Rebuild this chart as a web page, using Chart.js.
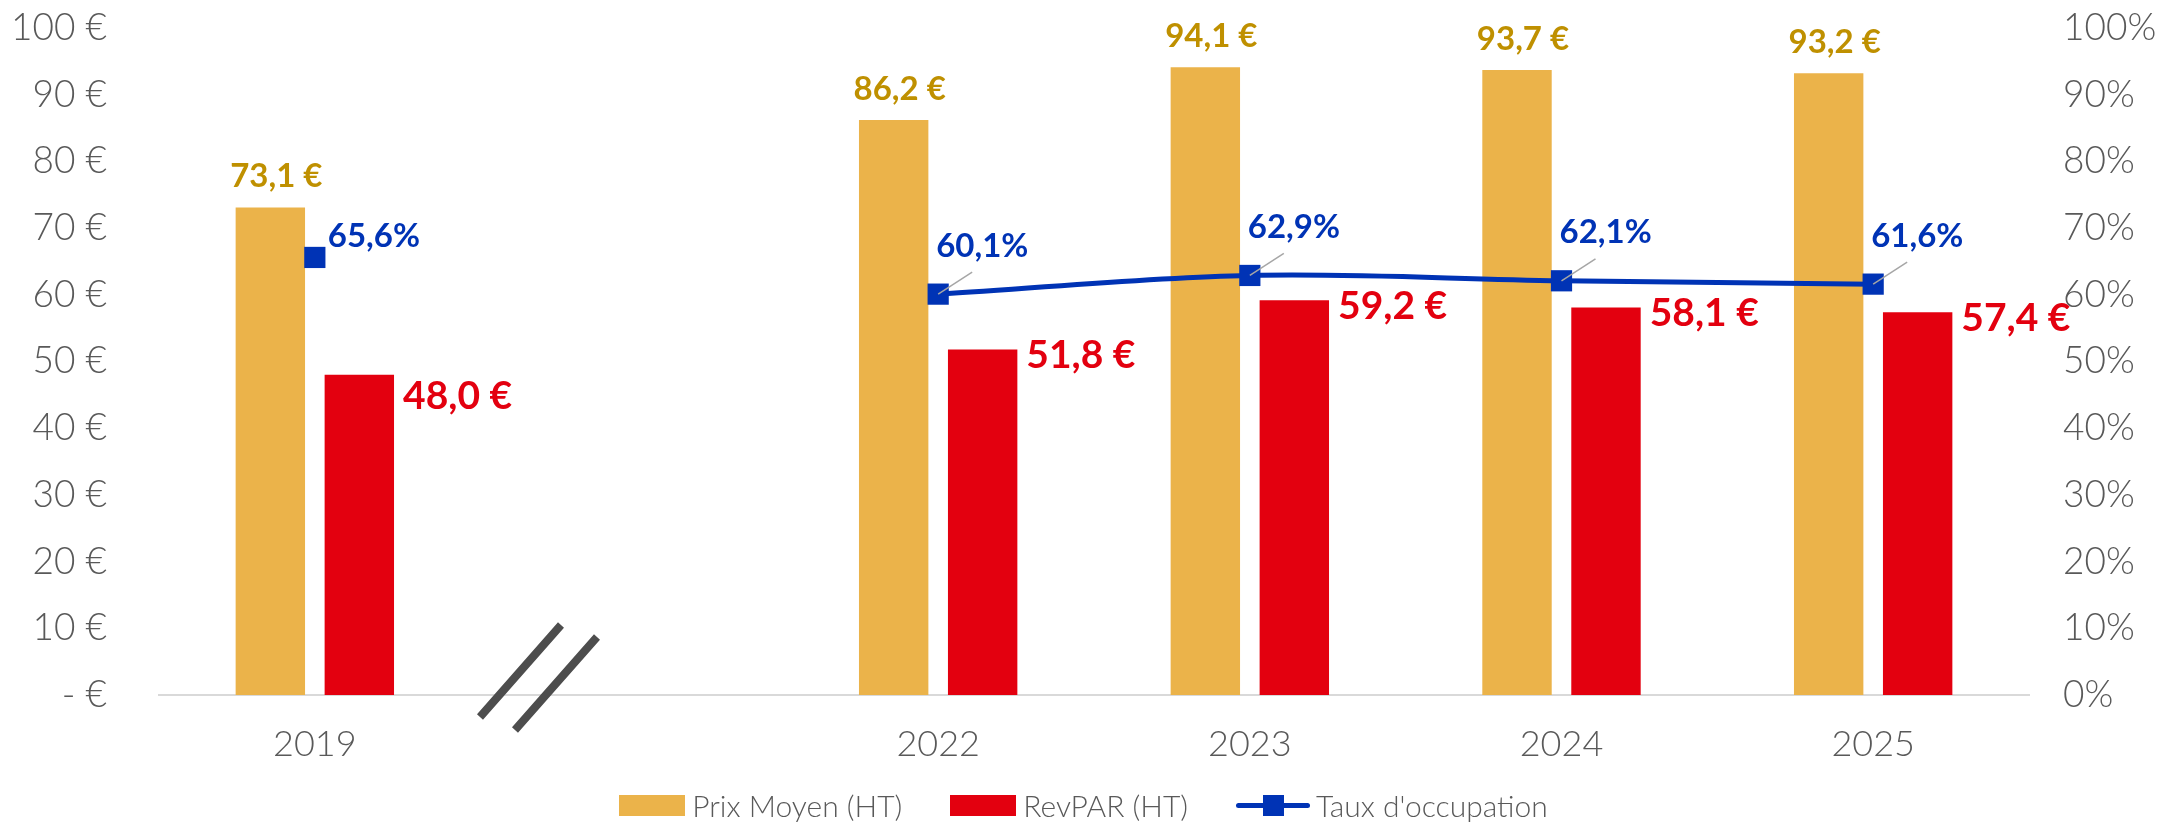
<!DOCTYPE html>
<html lang="fr">
<head>
<meta charset="utf-8">
<title>Prix moyen, RevPAR et taux d'occupation</title>
<script src="https://cdn.jsdelivr.net/npm/chart.js@4/dist/chart.umd.min.js"></script>
<style>
  html, body { margin: 0; padding: 0; background: #fff; }
  #wrap { position: relative; width: 2167px; height: 828px; }
  #legend {
    position: absolute; left: 0; right: 0; top: 787px;
    display: flex; justify-content: center; align-items: center;
    font-family: Lato, "Open Sans", sans-serif; font-weight: 300;
    font-size: 30px; color: #595959; padding-left: 0px;
  }
  .item { display: flex; align-items: center; margin: 0 24px; }
  .box { width: 66px; height: 21px; margin-right: 7px; }
  .lineKey { position: relative; width: 74px; height: 21px; margin-right: 6px; }
  .lineKey .bar { position: absolute; left: 0; right: 0; top: 8px; height: 5px; background: #0033B5; border-radius: 3px; }
  .lineKey .sq { position: absolute; left: 27px; top: 0; width: 21px; height: 21px; background: #0033B5; }
</style>
</head>
<body>
<div id="wrap">
  <canvas id="chart" width="2167" height="828"></canvas>
  <div id="legend">
    <div class="item"><span class="box" style="background:#EBB34A"></span>Prix Moyen (HT)</div>
    <div class="item"><span class="box" style="background:#E3000F"></span>RevPAR (HT)</div>
    <div class="item"><span class="lineKey"><span class="bar"></span><span class="sq"></span></span>Taux d'occupation</div>
  </div>
</div>
<script>
// Données
const annees = ["2019", "", "2022", "2023", "2024", "2025"];
const prixMoyen = [73.1, null, 86.2, 94.1, 93.7, 93.2];
const revpar = [48.0, null, 51.8, 59.2, 58.1, 57.4];
const tauxOccupation = [65.6, null, 60.1, 62.9, 62.1, 61.6];
const ticksEuro = [0, 10, 20, 30, 40, 50, 60, 70, 80, 90, 100];

const FONT = 'Lato, "Open Sans", sans-serif';
const OR = "#EBB34A", ROUGE = "#E3000F", BLEU = "#0033B5";

const euro = v => v.toFixed(1).replace(".", ",") + " €";
const pct = v => v.toFixed(1).replace(".", ",") + "%";

// Étiquettes de valeurs
const etiquettes = {
  id: "etiquettes",
  afterDatasetsDraw(chart) {
    const ctx = chart.ctx;
    ctx.save();
    ctx.textBaseline = "middle";

    // prix moyen au-dessus des barres
    ctx.font = "bold 33px " + FONT;
    ctx.fillStyle = "#BF9000";
    ctx.textAlign = "center";
    chart.getDatasetMeta(1).data.forEach((b, i) => {
      if (prixMoyen[i] == null) return;
      ctx.fillText(euro(prixMoyen[i]), b.x + 6, b.y - 31);
    });

    // revpar à droite des barres
    ctx.font = "bold 39px " + FONT;
    ctx.fillStyle = ROUGE;
    ctx.textAlign = "left";
    chart.getDatasetMeta(2).data.forEach((b, i) => {
      if (revpar[i] == null) return;
      const dy = i === 0 ? 22 : 6;
      ctx.fillText(euro(revpar[i]), b.x + b.width / 2 + 9, b.y + dy);
    });

    // taux d'occupation
    ctx.font = "bold 33px " + FONT;
    ctx.fillStyle = BLEU;
    chart.getDatasetMeta(0).data.forEach((p, i) => {
      if (tauxOccupation[i] == null) return;
      if (i === 0) {
        ctx.fillText(pct(tauxOccupation[i]), p.x + 13, p.y - 21);
        return;
      }
      ctx.strokeStyle = "#A6A6A6";
      ctx.lineWidth = 1.5;
      ctx.beginPath();
      ctx.moveTo(p.x, p.y);
      ctx.lineTo(p.x + 34, p.y - 22);
      ctx.stroke();
      ctx.fillText(pct(tauxOccupation[i]), p.x - 2, p.y - 48);
    });
    ctx.restore();
  }
};

// Coupure de l'axe entre 2019 et 2022
const coupure = {
  id: "coupure",
  afterDraw(chart) {
    const x = chart.scales.x, ctx = chart.ctx;
    const x0 = x.getPixelForValue(0), x1 = x.getPixelForValue(1);
    const cx = x0 + 0.716 * (x1 - x0);
    const cy = chart.chartArea.bottom;
    ctx.save();
    ctx.strokeStyle = "#4D4D4D";
    ctx.lineWidth = 8;
    ctx.beginPath();
    ctx.moveTo(cx - 58, cy + 22); ctx.lineTo(cx + 23, cy - 70);
    ctx.moveTo(cx - 23, cy + 35); ctx.lineTo(cx + 59, cy - 58);
    ctx.stroke();
    ctx.restore();
  }
};

// largeur fixe des axes verticaux, sans marge haute due au padding des ticks
const fitY = w => s => { s.width = w; s.paddingTop = 22; s.paddingBottom = 22; };

new Chart(document.getElementById("chart"), {
  type: "bar",
  data: {
    labels: annees,
    datasets: [
      {
        type: "line",
        label: "Taux d'occupation",
        data: tauxOccupation,
        yAxisID: "y2",
        borderColor: BLEU,
        backgroundColor: BLEU,
        borderWidth: 5,
        pointStyle: "rect",
        pointRadius: 15,
        pointBorderWidth: 0,
        tension: 0.35,
        spanGaps: false,
        clip: false,
        order: 0
      },
      {
        label: "Prix Moyen (HT)",
        data: prixMoyen,
        backgroundColor: OR,
        yAxisID: "y",
        categoryPercentage: 0.571,
        barPercentage: 0.78,
        order: 1
      },
      {
        label: "RevPAR (HT)",
        data: revpar,
        backgroundColor: ROUGE,
        yAxisID: "y",
        categoryPercentage: 0.571,
        barPercentage: 0.78,
        order: 2
      }
    ]
  },
  options: {
    responsive: false,
    animation: false,
    layout: { autoPadding: false, padding: { top: 28, left: 0, right: 0, bottom: 0 } },
    plugins: { legend: { display: false }, tooltip: { enabled: false } },
    scales: {
      x: {
        grid: { display: false },
        border: { display: true, color: "#D9D9D9", width: 2 },
        ticks: { color: "#595959", font: { family: FONT, size: 36, weight: 300 }, padding: 20 },
        afterFit: s => { s.height = 133; }
      },
      y: {
        position: "left",
        min: 0, max: 100,
        grid: { display: false },
        border: { display: false },
        afterBuildTicks: s => { s.ticks = ticksEuro.map(v => ({ value: v })); },
        ticks: {
          color: "#595959",
          font: { family: FONT, size: 37, weight: 300 },
          padding: 44,
          callback: v => v === 0 ? "- €" : v + " €"
        },
        afterFit: fitY(159)
      },
      y2: {
        position: "right",
        min: 0, max: 100,
        grid: { display: false },
        border: { display: false },
        ticks: {
          stepSize: 10,
          color: "#595959",
          font: { family: FONT, size: 37, weight: 300 },
          padding: 26,
          callback: v => v + "%"
        },
        afterFit: fitY(138)
      }
    }
  },
  plugins: [etiquettes, coupure]
});
</script>
</body>
</html>
